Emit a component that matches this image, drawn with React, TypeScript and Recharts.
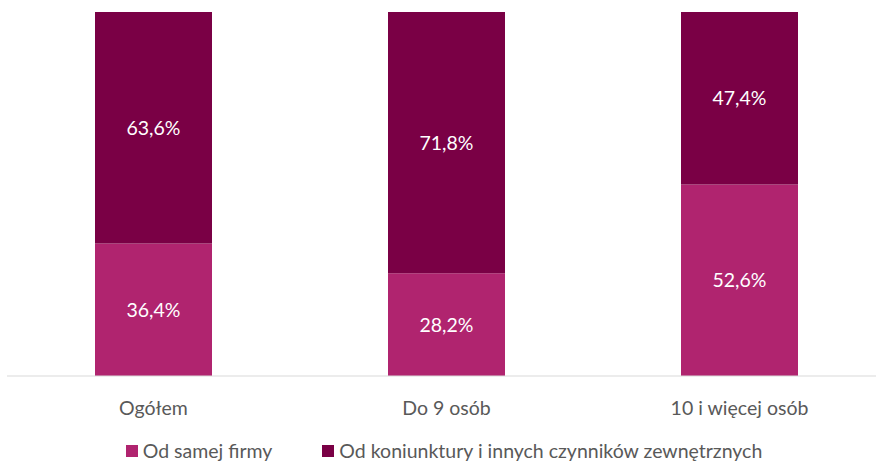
import React from "react";
import { Bar, BarChart, LabelList, XAxis, YAxis } from "recharts";

const categories = ["Ogółem", "Do 9 osób", "10 i więcej osób"];
const firma = [36.4, 28.2, 52.6];
const zewnetrzne = [63.6, 71.8, 47.4];

const seriesNames = {
  firma: "Od samej firmy",
  zewnetrzne: "Od koniunktury i innych czynników zewnętrznych",
};

const data = categories.map((name, i) => ({
  name,
  firma: firma[i],
  zewnetrzne: zewnetrzne[i],
}));

const FONT = "Lato, 'Open Sans', sans-serif";
const FS = 19.5;
const PINK = "#B0246F";
const PLUM = "#7A0045";

const fmt = (v: any) => `${Number(v).toFixed(1).replace(".", ",")}%`;

// the page comes with the default 8px body margin
if (typeof document !== "undefined") document.body.style.margin = "0";

// legend drawn as plain html under the plot
const LegendBox = () => (
  <div
    style={{
      position: "absolute",
      top: 437,
      left: 0,
      width: 876,
      display: "flex",
      justifyContent: "center",
      alignItems: "center",
      fontFamily: FONT,
      fontSize: FS,
      color: "#595959",
      lineHeight: "28px",
      paddingLeft: 12,
      boxSizing: "border-box",
    }}
  >
    {[
      { c: PINK, t: seriesNames.firma },
      { c: PLUM, t: seriesNames.zewnetrzne },
    ].map((it, i) => (
      <div key={i} style={{ display: "flex", alignItems: "center", marginLeft: i ? 50 : 0 }}>
        <span style={{ width: 12, height: 12, background: it.c, display: "inline-block", marginRight: 5 }} />
        <span>{it.t}</span>
      </div>
    ))}
  </div>
);

export default function App() {
  return (
    <div style={{ position: "relative", width: 876, height: 463, overflow: "hidden", background: "#fff" }}>
      <BarChart
        width={886}
        height={426}
        data={data}
        margin={{ top: 12, right: 0, left: 7, bottom: 0 }}
      >
        <XAxis
          dataKey="name"
          axisLine={{ stroke: "#D9D9D9", strokeWidth: 1 }}
          tickLine={false}
          tickSize={0}
          tickMargin={25}
          height={50}
          tick={{ fill: "#595959", fontSize: FS, fontFamily: FONT }}
        />
        <YAxis hide domain={[0, 100]} />
        <Bar dataKey="firma" stackId="a" fill={PINK} barSize={117} isAnimationActive={false}>
          <LabelList
            dataKey="firma"
            position="center"
            formatter={fmt}
            style={{ fill: "#fff", fontSize: FS, fontFamily: FONT }}
          />
        </Bar>
        <Bar dataKey="zewnetrzne" stackId="a" fill={PLUM} barSize={117} isAnimationActive={false}>
          <LabelList
            dataKey="zewnetrzne"
            position="center"
            formatter={fmt}
            style={{ fill: "#fff", fontSize: FS, fontFamily: FONT }}
          />
        </Bar>
      </BarChart>
      <LegendBox />
    </div>
  );
}
